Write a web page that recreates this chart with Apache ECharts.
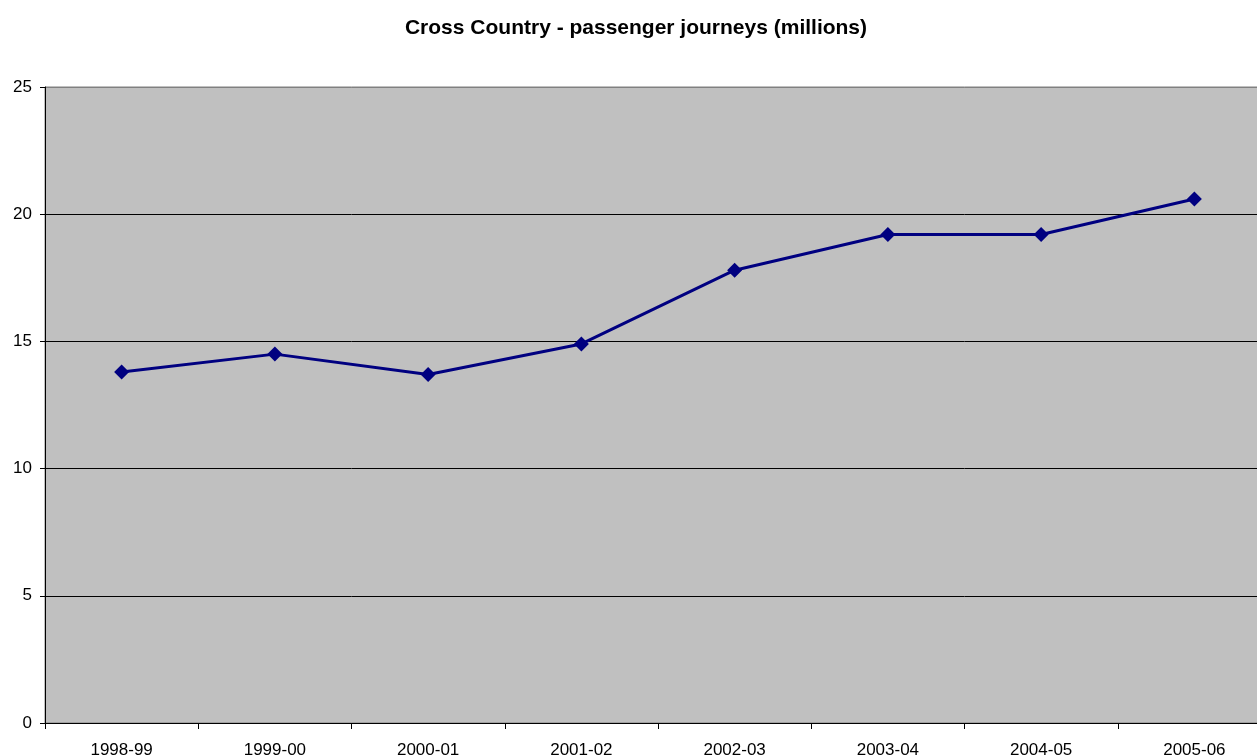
<!DOCTYPE html>
<html><head><meta charset="utf-8">
<script src="https://cdn.jsdelivr.net/npm/echarts@6/dist/echarts.min.js"></script>
<style>html,body{margin:0;padding:0;background:#fff;overflow:hidden}#c{width:1290px;height:790px}</style>
</head><body><div id="c"></div>
<script>
const categories = ['1998-99','1999-00','2000-01','2001-02','2002-03','2003-04','2004-05','2005-06'];
const journeys = [13.8, 14.5, 13.7, 14.9, 17.8, 19.2, 19.2, 20.6];
const yTicks = [0, 5, 10, 15, 20, 25];
const chart = echarts.init(document.getElementById('c'));
chart.setOption({
  backgroundColor: '#ffffff',
  animation: false,
  title: {
    text: 'Cross Country - passenger journeys (millions)',
    left: 631, top: 13, textAlign: 'center',
    textStyle: {fontFamily: 'Liberation Sans, Arial', fontSize: 21, fontWeight: 'bold', color: '#000'}
  },
  grid: {left: 45, right: 19, top: 87, bottom: 67, show: true, backgroundColor: '#c0c0c0', borderColor: '#808080', borderWidth: 1},
  xAxis: {
    type: 'category', data: categories, boundaryGap: true,
    axisLine: {lineStyle: {color: '#000', width: 1}},
    axisTick: {show: true, length: 6, inside: false, lineStyle: {color: '#000'}},
    axisLabel: {fontFamily: 'Liberation Sans, Arial', fontSize: 17, color: '#000', margin: 19}
  },
  yAxis: {
    type: 'value', min: yTicks[0], max: yTicks[yTicks.length-1], interval: 5,
    axisLine: {show: true, lineStyle: {color: '#000', width: 1}},
    axisTick: {show: true, length: 5, lineStyle: {color: '#000'}},
    axisLabel: {fontFamily: 'Liberation Sans, Arial', fontSize: 17, color: '#000', margin: 13},
    splitLine: {show: true, lineStyle: {color: ['#000', '#000', '#000', '#000', '#000', '#808080'], width: 1}}
  },
  series: [{
    type: 'line', data: journeys,
    symbol: 'diamond', symbolSize: 15,
    lineStyle: {color: '#000080', width: 3},
    itemStyle: {color: '#000080'}
  }]
});
</script></body></html>
